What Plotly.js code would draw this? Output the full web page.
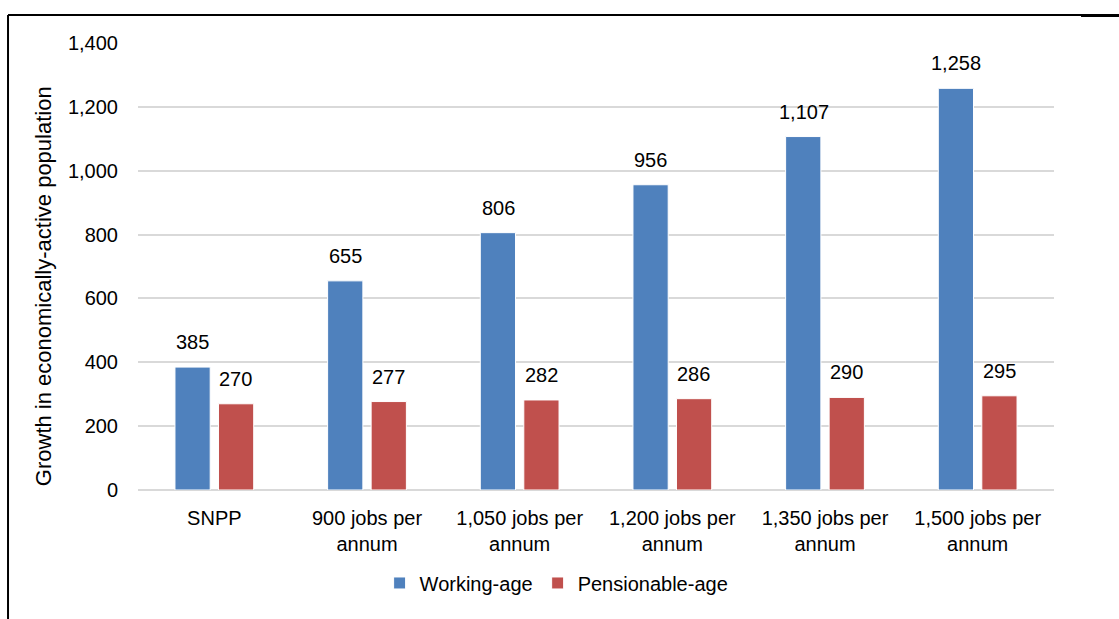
<!DOCTYPE html>
<html><head><meta charset="utf-8">
<script src="https://cdn.plot.ly/plotly-3.0.1.min.js"></script>
<style>body{margin:0;background:#fff}#c{width:1119px;height:619px}</style>
</head><body><div id="c"></div>
<script>
const categories = ["SNPP", "900 jobs per<br>annum", "1,050 jobs per<br>annum", "1,200 jobs per<br>annum", "1,350 jobs per<br>annum", "1,500 jobs per<br>annum"];
const workingAge = [385, 655, 806, 956, 1107, 1258];
const pensionableAge = [270, 277, 282, 286, 290, 295];
const tickVals = [0, 200, 400, 600, 800, 1000, 1200, 1400];
const tickText = ["0", "200", "400", "600", "800", "1,000", "1,200", "1,400"];
const yTitle = 'Growth in economically-active population';

const FONT = "'Liberation Sans Narrow', 'Arial Narrow', 'Liberation Sans', Arial, sans-serif";
const FS = 20;
const fmt = v => v.toLocaleString('en-US');

const traces = [
  {type:'bar', name:'Working-age', x:categories, y:workingAge, marker:{color:'#4F81BD', line:{color:'#ffffff', width:1}},
   textposition:'none', hoverinfo:'y'},
  {type:'bar', name:'Pensionable-age', x:categories, y:pensionableAge, marker:{color:'#C0504D', line:{color:'#ffffff', width:1}},
   textposition:'none', hoverinfo:'y'}
];

const annotations = [];
categories.forEach((c, i) => {
  annotations.push({x:i, xref:'x', y:workingAge[i], yref:'y', text:fmt(workingAge[i]), showarrow:false,
    xshift:-21.5, yshift:25, font:{family:FONT, size:FS, color:'#000'}});
  annotations.push({x:i, xref:'x', y:pensionableAge[i], yref:'y', text:fmt(pensionableAge[i]), showarrow:false,
    xshift:21.5, yshift:25, font:{family:FONT, size:FS, color:'#000'}});
});
annotations.push({xref:'paper', yref:'paper', x:-0.1037, y:0.456, text:yTitle, textangle:-90, showarrow:false,
  xanchor:'center', yanchor:'middle', font:{family:FONT, size:22, color:'#000'}});

const layout = {
  width:1119, height:619,
  margin:{l:138, r:65, t:43, b:129},
  paper_bgcolor:'#fff', plot_bgcolor:'#fff',
  barmode:'group', bargap:0.43, bargroupgap:0.19,
  font:{family:FONT, size:FS, color:'#000'},
  showlegend:true,
  legend:{orientation:'h', x:0.457, xanchor:'center', y:-0.208, yanchor:'middle', font:{family:FONT, size:FS}, traceorder:'normal'},
  xaxis:{type:'category', tickfont:{family:FONT, size:FS}, showgrid:false, showline:false, ticks:'', ticklabelstandoff:14, automargin:false},
  yaxis:{range:[0,1400], tickvals:tickVals, ticktext:tickText, showgrid:true, gridcolor:'#D9D9D9', gridwidth:2,
    zeroline:true, zerolinecolor:'#D9D9D9', zerolinewidth:2, ticks:'', ticklen:0, ticklabelstandoff:19, tickfont:{family:FONT, size:FS},
    automargin:false},
  annotations:annotations,
  shapes:[
    {type:'line', xref:'paper', yref:'paper', x0:-0.1419, x1:-0.1419, y0:1.0626, y1:-0.3, line:{color:'#000', width:2}},
    {type:'line', xref:'paper', yref:'paper', x0:-0.1419, x1:1.075, y0:1.0626, y1:1.0626, line:{color:'#000', width:2}},
    {type:'line', xref:'paper', yref:'paper', x0:1.0295, x1:1.075, y0:1.0615, y1:1.0615, line:{color:'#000', width:3}}
  ]
};

Plotly.newPlot('c', traces, layout, {displayModeBar:false, staticPlot:true});
</script></body></html>
